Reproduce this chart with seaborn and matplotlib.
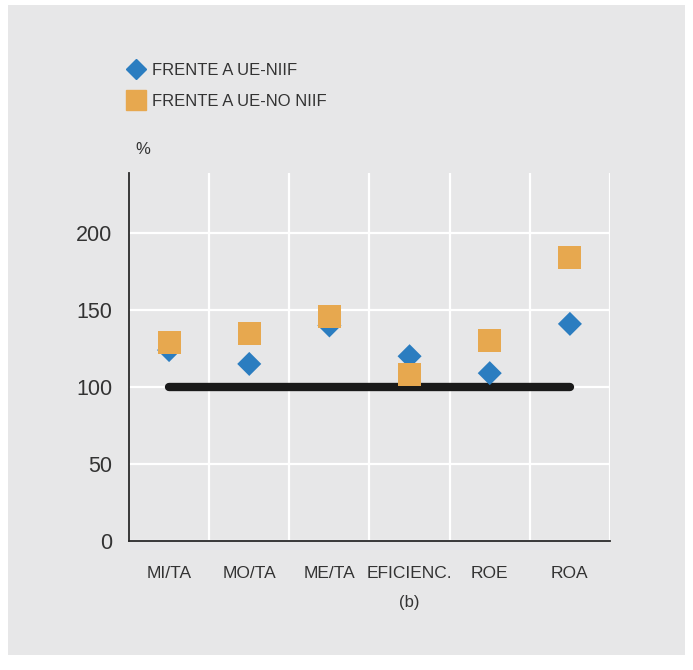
import matplotlib
matplotlib.use("Agg")
import matplotlib.pyplot as plt
from matplotlib.patches import Rectangle
from matplotlib.lines import Line2D
import seaborn as sns
import pandas as pd

categories = ["MI/TA", "MO/TA", "ME/TA", "EFICIENC.", "ROE", "ROA"]
niif = [124, 115, 140, 120, 109, 141]
no_niif = [129, 135, 146, 108, 130, 184]
baseline = [100, 100, 100, 100, 100, 100]
series_names = ["FRENTE A UE-NIIF", "FRENTE A UE-NO NIIF"]
yticks = [0, 50, 100, 150, 200]

BG = "#e7e7e8"
BLUE = "#2b7dc0"
ORANGE = "#e7a84f"
TXT = "#333333"

sns.set_theme(style="white")
plt.rcParams["font.family"] = ["Liberation Sans", "DejaVu Sans"]

fig = plt.figure(figsize=(6.93, 6.70), dpi=100, facecolor="white")
bg = Rectangle((8 / 693, 1 - 655 / 670), (685 - 8) / 693, (655 - 5) / 670,
               transform=fig.transFigure, facecolor=BG, edgecolor="none", zorder=-10)
fig.add_artist(bg)
ax = fig.add_axes([129 / 693, 1 - 541 / 670, (610 - 129) / 693, (541 - 173) / 670])
ax.set_zorder(1)
ax.set_facecolor(BG)

df_base = pd.DataFrame({"cat": categories, "val": baseline})
df_n = pd.DataFrame({"cat": categories, "val": niif})
df_nn = pd.DataFrame({"cat": categories, "val": no_niif})

sns.lineplot(data=df_base, x="cat", y="val", ax=ax, color="#1a1a1a", linewidth=6,
             solid_capstyle="round", sort=False, zorder=3)
sns.scatterplot(data=df_n, x="cat", y="val", ax=ax, marker="D", s=150, color=BLUE,
                edgecolor="none", linewidth=0, zorder=4)
sns.scatterplot(data=df_nn, x="cat", y="val", ax=ax, marker="s", s=275, color=ORANGE,
                edgecolor="none", linewidth=0, zorder=5)

ax.set_xlim(-0.5, len(categories) - 0.5)
ax.set_ylim(0, 239)
ax.set_yticks(yticks)
ax.set_xticks(range(len(categories)))
ax.set_xticklabels(categories, fontsize=12.5, color=TXT)
ax.set_xticks([i + 0.5 for i in range(len(categories))], minor=True)
ax.tick_params(axis="y", labelsize=15.5, colors=TXT, length=0, pad=12)
ax.tick_params(axis="x", which="both", length=0, pad=18)
ax.grid(False)
ax.grid(True, axis="y", which="major", color="white", linewidth=1.6, zorder=0)
ax.grid(True, axis="x", which="minor", color="white", linewidth=1.6, zorder=0)
ax.set_axisbelow(True)
ax.set_xlabel("")
ax.set_ylabel("")
for s in ["top", "right"]:
    ax.spines[s].set_visible(False)
for s in ["left", "bottom"]:
    ax.spines[s].set_color("#2a2a2a")
    ax.spines[s].set_linewidth(1.3)

fig.text(ax.get_position().x0 + (3.5 / 6) * ax.get_position().width, 1 - 603 / 670, "(b)",
         ha="center", va="center", fontsize=12, color=TXT)
fig.text(135 / 693, 1 - 150 / 670, "%", fontsize=12, color=TXT, va="center")

handles = [Line2D([], [], marker="D", linestyle="none", color=BLUE, markersize=10),
           Line2D([], [], marker="s", linestyle="none", color=ORANGE, markersize=14)]
fig.legend(handles, series_names, loc="upper left", bbox_to_anchor=(119 / 693, 1 - 56 / 670),
           frameon=False, fontsize=12, handletextpad=0.35, labelspacing=0.95,
           handlelength=1.2, borderaxespad=0, labelcolor=TXT)

fig.savefig("out.png", dpi=100, facecolor=fig.get_facecolor())
